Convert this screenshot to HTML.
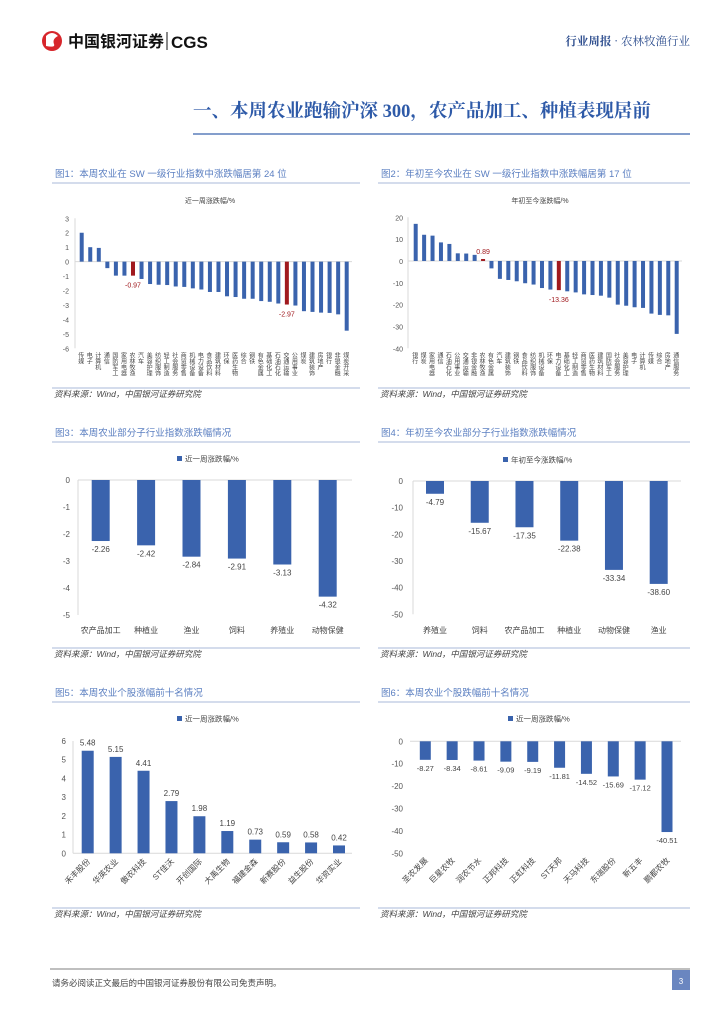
<!DOCTYPE html>
<html><head><meta charset="utf-8">
<style>
html,body{margin:0;padding:0;background:#fff;}
body{width:724px;height:1024px;position:relative;overflow:hidden;font-family:"Liberation Sans","Noto Sans CJK SC",sans-serif;}
svg{position:absolute;left:0;top:0;}
</style></head>
<body>
<svg id="pg" width="724" height="1024" viewBox="0 0 724 1024">
  <g>
    <circle cx="52" cy="41" r="10" fill="#d7262b"/>
    <path d="M46 36 q6 -6 12 0 q-6 3 -4 8 q2 4 -8 2" fill="#fff"/>
    <text x="68" y="47" font-size="16" font-weight="bold" fill="#111" font-family="'Noto Sans CJK SC',sans-serif">中国银河证券</text>
    <line x1="167" y1="32" x2="167" y2="50" stroke="#111" stroke-width="1"/>
    <text x="171" y="48" font-size="17" font-weight="bold" fill="#111">CGS</text>
  </g>
  <text x="690" y="45" text-anchor="end" font-size="11.5" fill="#2f4f8f" font-family="'Noto Serif CJK SC',serif"><tspan font-weight="bold">行业周报</tspan> · 农林牧渔行业</text>
  <text x="193" y="117" font-size="18.5" font-weight="bold" fill="#2e5aa8" font-family="'Liberation Serif','Noto Serif CJK SC',serif">一、本周农业跑输沪深 300，农产品加工、种植表现居前</text>
  <line x1="193" y1="134" x2="690" y2="134" stroke="#3a63ad" stroke-width="1.2"/>
  <g id="charts"></g>
  <line x1="50" y1="969" x2="690" y2="969" stroke="#555" stroke-width="0.8"/>
  <text x="52" y="986" font-size="8.5" fill="#444" font-family="'Noto Sans CJK SC',sans-serif">请务必阅读正文最后的中国银河证券股份有限公司免责声明。</text>
  <rect x="672" y="970" width="18" height="20" fill="#6a86c0"/>
  <text x="681" y="984" text-anchor="middle" font-size="8" fill="#fff">3</text>
</svg>
<script>
// ---- data ----
const c1Cats = ["传媒","电子","计算机","通信","国防军工","家用电器","农林牧渔","汽车","美容护理","纺织服饰","轻工制造","社会服务","商贸零售","机械设备","电力设备","食品饮料","建筑材料","环保","医药生物","综合","钢铁","有色金属","基础化工","石油石化","交通运输","公用事业","煤炭","建筑装饰","房地产","银行","非银金融","煤炭开采"];
const c1Vals = [2.0,1.0,0.95,-0.45,-0.97,-0.97,-0.97,-1.2,-1.55,-1.6,-1.62,-1.72,-1.75,-1.85,-1.93,-2.1,-2.1,-2.4,-2.45,-2.57,-2.57,-2.73,-2.78,-2.9,-2.97,-3.04,-3.43,-3.48,-3.53,-3.55,-3.65,-4.78];
const c1Hi = [6,24];
const c1HiLabels = ["-0.97","-2.97"];
const c1Ticks = [3,2,1,0,-1,-2,-3,-4,-5,-6];

const c2Cats = ["银行","煤炭","家用电器","通信","石油石化","公用事业","交通运输","非银金融","农林牧渔","有色金属","汽车","建筑装饰","钢铁","食品饮料","纺织服饰","机械设备","环保","电力设备","基础化工","轻工制造","商贸零售","医药生物","建筑材料","国防军工","社会服务","美容护理","电子","计算机","传媒","综合","房地产","通信服务"];
const c2Vals = [17,12,11.6,8.5,7.8,3.5,3.4,2.8,0.89,-3.4,-8.2,-8.7,-9.3,-10.2,-10.8,-12.4,-13.1,-13.36,-13.9,-14.4,-15.3,-15.6,-15.9,-16.8,-20,-20.5,-21.2,-21.5,-24.1,-24.7,-24.9,-33.4];
const c2Hi = [8,17];
const c2HiLabels = ["0.89","-13.36"];
const c2Ticks = [20,10,0,-10,-20,-30,-40];

const c3Cats = ["农产品加工","种植业","渔业","饲料","养殖业","动物保健"];
const c3Vals = [-2.26,-2.42,-2.84,-2.91,-3.13,-4.32];
const c3Labels = ["-2.26","-2.42","-2.84","-2.91","-3.13","-4.32"];
const c3Ticks = [0,-1,-2,-3,-4,-5];

const c4Cats = ["养殖业","饲料","农产品加工","种植业","动物保健","渔业"];
const c4Vals = [-4.79,-15.67,-17.35,-22.38,-33.34,-38.60];
const c4Labels = ["-4.79","-15.67","-17.35","-22.38","-33.34","-38.60"];
const c4Ticks = [0,-10,-20,-30,-40,-50];

const c5Cats = ["禾丰股份","华英农业","傲农科技","ST佳沃","开创国际","大禹生物","福建金森","新赛股份","益生股份","华资实业"];
const c5Vals = [5.48,5.15,4.41,2.79,1.98,1.19,0.73,0.59,0.58,0.42];
const c5Labels = ["5.48","5.15","4.41","2.79","1.98","1.19","0.73","0.59","0.58","0.42"];
const c5Ticks = [0,1,2,3,4,5,6];

const c6Cats = ["圣农发展","巨星农牧","润农节水","正邦科技","正虹科技","ST天邦","天马科技","东瑞股份","新五丰","鹏都农牧"];
const c6Vals = [-8.27,-8.34,-8.61,-9.09,-9.19,-11.81,-14.52,-15.69,-17.12,-40.51];
const c6Labels = ["-8.27","-8.34","-8.61","-9.09","-9.19","-11.81","-14.52","-15.69","-17.12","-40.51"];
const c6Ticks = [0,-10,-20,-30,-40,-50];

// ---- drawing ----
const NS="http://www.w3.org/2000/svg";
const root=document.getElementById('charts');
const BLUE="#3a63ad", RED="#a0191e";
function mk(tag,parent){const e=document.createElementNS(NS,tag);parent.appendChild(e);return e;}
function attrs(e,o){for(const k in o)e.setAttribute(k,o[k]);return e;}
function txt(parent,x,y,s,size,fill,anchor){const t=mk('text',parent);attrs(t,{x:x,y:y,'font-size':size,fill:fill||'#444','text-anchor':anchor||'middle','font-family':"'Liberation Sans','Noto Sans CJK SC',sans-serif"});t.textContent=s;return t;}

function panelFrame(id,x1,x2,titleY,title,srcY){
  const g=mk('g',root);
  
  
  const t=txt(g,x1+3,titleY,title,9.5,'#5b7fc1','start');
  
  
  const l=mk('line',g);attrs(l,{x1:x1,x2:x2,y1:titleY+6,y2:titleY+6,stroke:'#a8b8d8','stroke-width':1});
  
  
  const l2=mk('line',g);attrs(l2,{x1:x1,x2:x2,y1:srcY-9,y2:srcY-9,stroke:'#a8b8d8','stroke-width':1});
  
  
  const s=txt(g,x1+2,srcY,'资料来源：Wind，中国银河证券研究院',8.5,'#444','start');
  s.setAttribute('font-style','italic');
  
  
  return g;
}

function barChart(id,g,o){
  const yScale=v=>o.y0+(o.tMax-v)/(o.tMax-o.tMin)*(o.y1-o.y0);
  const xPos=i=>o.xFirst+i*(o.xLast-o.xFirst)/(o.cats.length-1);
  o.ticks.forEach(v=>{
    const t=txt(g,o.tickX,yScale(v)+3,String(v),o.tickSize,'#555','end');
    
    
  });
  const zx=mk('line',g);attrs(zx,{x1:o.axX1,x2:o.axX2,y1:yScale(0),y2:yScale(0),stroke:'#d9d9d9','stroke-width':1});
  
  
  if(o.yAxis){const ya=mk('line',g);attrs(ya,{x1:o.axX1,x2:o.axX1,y1:o.y0,y2:o.y1,stroke:'#d9d9d9','stroke-width':1});
    
    }
  o.vals.forEach((v,i)=>{
    const cx=xPos(i),y=yScale(v),z=yScale(0);
    const hi=o.hi&&o.hi.indexOf(i)>=0;
    const r=mk('rect',g);attrs(r,{x:cx-o.bw/2,y:Math.min(y,z),width:o.bw,height:Math.max(Math.abs(z-y),0.8),fill:hi?RED:BLUE});
    
    
    if(o.labels){
      const ly=v<0?y+11:y-5;
      const t=txt(g,cx,ly,o.labels[i],o.lblSize,'#444');
      
      
    }
    if(hi){
      const k=o.hi.indexOf(i);
      const t=txt(g,cx,v<0?y+12:y-5,o.hiLabels[k],7,RED);
      
      
    }
    if(o.catMode==='vertical'){
      const t=txt(g,cx-2,o.catY,o.cats[i],6,'#444','start');
      t.setAttribute('style','writing-mode:tb;glyph-orientation-vertical:0');
      
      
    } else if(o.catMode==='rot'){
      const t=txt(g,cx+3,o.catY,o.cats[i],8,'#444','end');
      t.setAttribute('transform','rotate(-45 '+(cx+3)+' '+o.catY+')');
      
      
    } else {
      const t=txt(g,cx,o.catY,o.cats[i],8,'#444');
      
      
    }
  });
  if(o.sub){const t=txt(g,o.subX,o.subY,o.sub,7,'#444');
    
    }
  if(o.legend){
    const lg=mk('g',g);
    
    
    const r=mk('rect',lg);attrs(r,{x:o.legX,y:o.legY-6,width:5,height:5,fill:BLUE});
    txt(lg,o.legX+8,o.legY-0.5,o.legend,7.5,'#444','start');
  }
}

let g;
g=panelFrame('fig1',52,360,177,'图1：本周农业在 SW 一级行业指数中涨跌幅居第 24 位',397);
barChart('fig1',g,{cats:c1Cats,vals:c1Vals,ticks:c1Ticks,tMax:3,tMin:-6,y0:218.3,y1:348.3,xFirst:81.7,xLast:346.7,bw:4,tickX:69,tickSize:7,axX1:75,axX2:352,yAxis:true,hi:c1Hi,hiLabels:c1HiLabels,catMode:'vertical',catY:352,sub:'近一周涨跌幅/%',subX:210,subY:203});
g=panelFrame('fig2',378,690,177,'图2：年初至今农业在 SW 一级行业指数中涨跌幅居第 17 位',397);
barChart('fig2',g,{cats:c2Cats,vals:c2Vals,ticks:c2Ticks,tMax:20,tMin:-40,y0:217.3,y1:348.3,xFirst:415.7,xLast:676.7,bw:4,tickX:403,tickSize:7,axX1:408,axX2:682,yAxis:true,hi:c2Hi,hiLabels:c2HiLabels,catMode:'vertical',catY:352,sub:'年初至今涨跌幅/%',subX:540,subY:203});
g=panelFrame('fig3',52,360,436,'图3：本周农业部分子行业指数涨跌幅情况',657);
barChart('fig3',g,{cats:c3Cats,vals:c3Vals,labels:c3Labels,lblSize:8,ticks:c3Ticks,tMax:0,tMin:-5,y0:480,y1:615,xFirst:100.7,xLast:327.7,bw:18,tickX:70,tickSize:8,axX1:78,axX2:352,yAxis:true,catMode:'flat',catY:633,legend:'近一周涨跌幅/%',legX:177,legY:462});
g=panelFrame('fig4',378,690,436,'图4：年初至今农业部分子行业指数涨跌幅情况',657);
barChart('fig4',g,{cats:c4Cats,vals:c4Vals,labels:c4Labels,lblSize:8,ticks:c4Ticks,tMax:0,tMin:-50,y0:481,y1:614.3,xFirst:435,xLast:658.7,bw:18,tickX:403,tickSize:8,axX1:413,axX2:681,yAxis:true,catMode:'flat',catY:633,legend:'年初至今涨跌幅/%',legX:503,legY:463});
g=panelFrame('fig5',52,360,696,'图5：本周农业个股涨幅前十名情况',917);
barChart('fig5',g,{cats:c5Cats,vals:c5Vals,labels:c5Labels,lblSize:8,ticks:c5Ticks,tMax:6,tMin:0,y0:741,y1:853.3,xFirst:87.7,xLast:339,bw:12,tickX:66,tickSize:8,axX1:73,axX2:352,yAxis:true,catMode:'rot',catY:862,legend:'近一周涨跌幅/%',legX:177,legY:722});
g=panelFrame('fig6',378,690,696,'图6：本周农业个股跌幅前十名情况',917);
barChart('fig6',g,{cats:c6Cats,vals:c6Vals,labels:c6Labels,lblSize:7.5,ticks:c6Ticks,tMax:0,tMin:-50,y0:741.3,y1:853.3,xFirst:425.3,xLast:667,bw:11,tickX:403,tickSize:8,axX1:410,axX2:681,yAxis:false,catMode:'rot',catY:861,legend:'近一周涨跌幅/%',legX:508,legY:722});
</script>
</body></html>
